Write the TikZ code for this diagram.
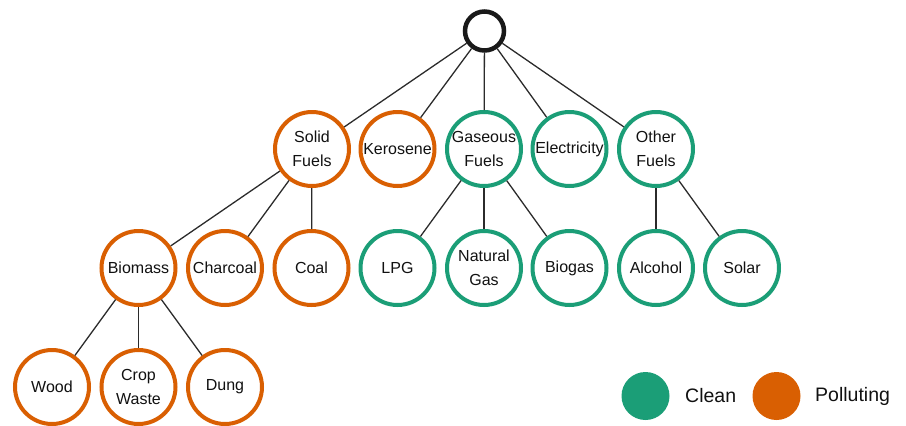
\documentclass[tikz,border=0pt]{standalone}
\usepackage{fontspec}
\setmainfont{Liberation Sans}
\definecolor{cleanc}{HTML}{1B9E77}
\definecolor{pollc}{HTML}{D95F02}
\definecolor{edgec}{HTML}{2B2B2B}
\definecolor{txtc}{HTML}{111111}
\begin{document}
\begin{tikzpicture}[x=1pt,y=-1pt,
  fuel/.style={circle,draw,line width=4pt,minimum size=74pt,inner sep=0pt,fill=white,
    text=txtc,align=center,font=\fontsize{16}{23.5}\selectfont},
  clean/.style={fuel,draw=cleanc},
  poll/.style={fuel,draw=pollc},
  rootnode/.style={circle,draw=black!90,line width=4.5pt,minimum size=39pt,inner sep=0pt},
  link/.style={draw=edgec,line width=1.3pt},
  legdot/.style={circle,minimum size=48pt,inner sep=0pt},
  legtxt/.style={anchor=west,text=txtc,font=\fontsize{19.5}{23}\selectfont,inner sep=0pt}]
\useasboundingbox (0,0) rectangle (906,426);
% root
\node[rootnode] (root) at (484.5,31) {};
% level 1
\node[poll]  (solid) at (312,149) {Solid\\Fuels};
\node[poll]  (kero)  at (397.5,149) {Kerosene};
\node[clean] (gas)   at (484,149) {Gaseous\\Fuels};
\node[clean] (elec)  at (569.5,149) {Electricity};
\node[clean] (other) at (656,149) {Other\\Fuels};
% level 2
\node[poll]  (bio)   at (138.5,268) {Biomass};
\node[poll]  (char)  at (225,268) {Charcoal};
\node[poll]  (coal)  at (311.5,268) {Coal};
\node[clean] (lpg)   at (397.5,268) {LPG};
\node[clean] (ng)    at (484,268) {Natural\\Gas};
\node[clean] (biog)  at (569.5,268) {Biogas};
\node[clean] (alc)   at (656,268) {Alcohol};
\node[clean] (solar) at (742,268) {Solar};
% level 3
\node[poll]  (wood)  at (52,387) {Wood};
\node[poll]  (crop)  at (138.5,387) {Crop\\Waste};
\node[poll]  (dung)  at (225,387) {Dung};
% edges
\foreach \n in {solid,kero,gas,elec,other} \draw[link] (root) -- (\n);
\foreach \n in {bio,char,coal} \draw[link] (solid) -- (\n);
\foreach \n in {lpg,ng,biog} \draw[link] (gas) -- (\n);
\foreach \n in {alc,solar} \draw[link] (other) -- (\n);
\foreach \n in {wood,crop,dung} \draw[link] (bio) -- (\n);
% legend
\node[legdot,fill=cleanc] (lgc) at (645.5,396) {};
\node[legtxt] (lgct) at (685,396) {Clean};
\node[legdot,fill=pollc] (lgp) at (776.5,396) {};
\node[legtxt] (lgpt) at (815,396) {Polluting};
\end{tikzpicture}
\end{document}
